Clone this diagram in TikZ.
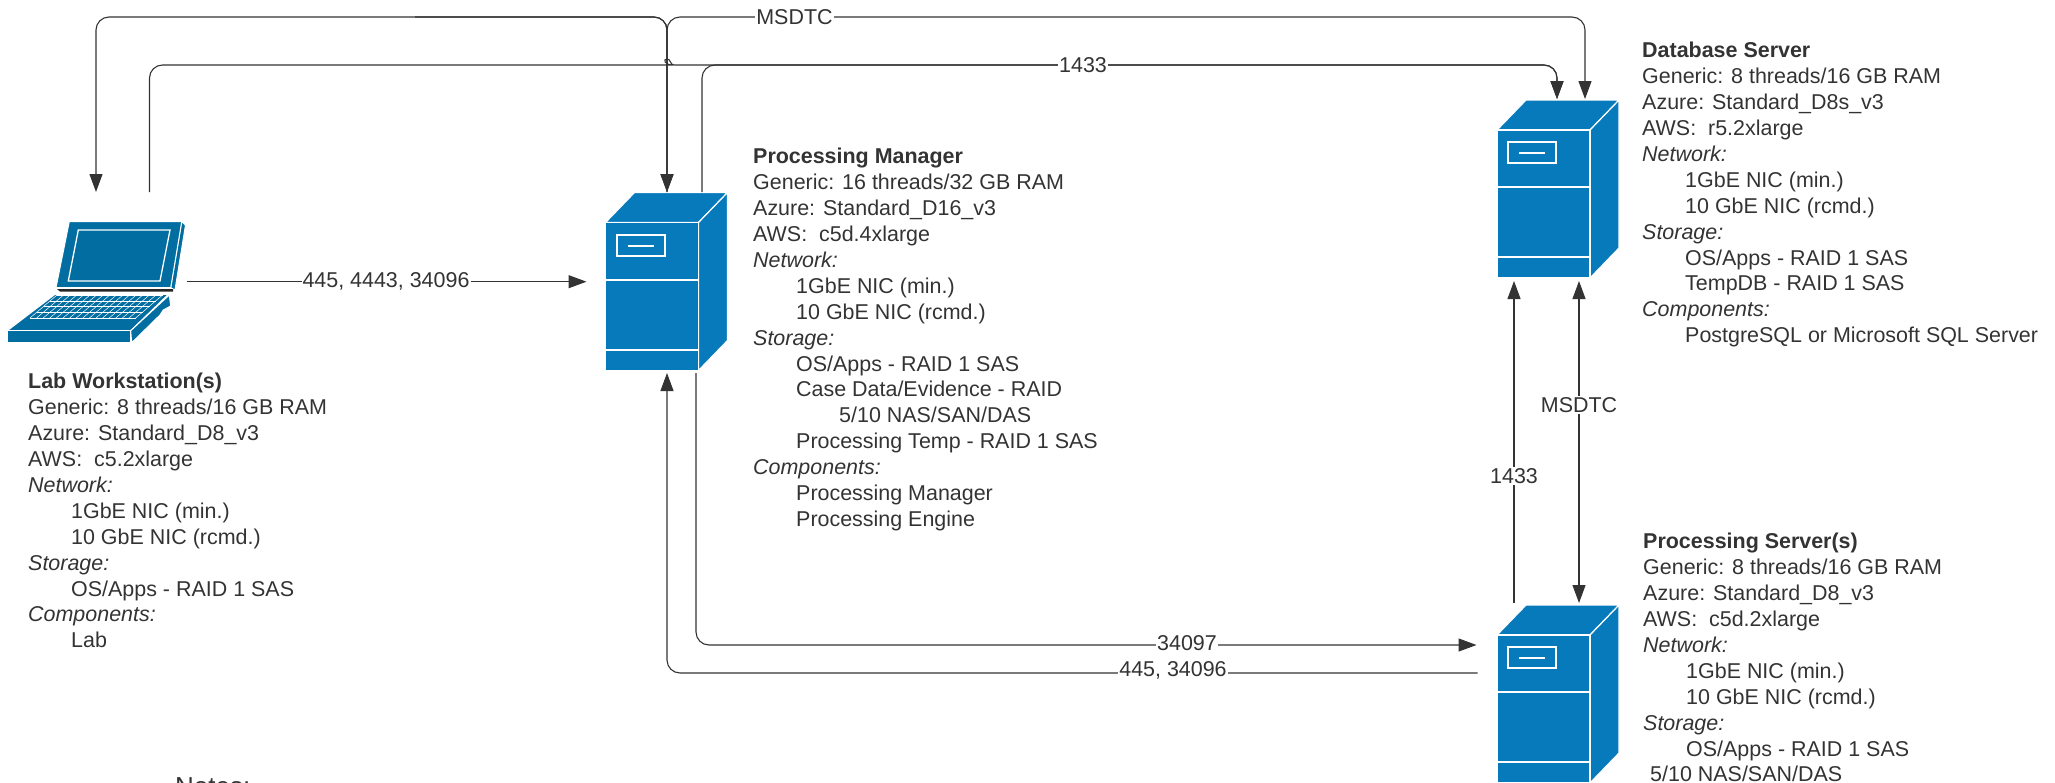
\documentclass[tikz,border=0pt]{standalone}
\definecolor{srvblue}{RGB}{7, 122, 188}
\definecolor{lapblue}{RGB}{2, 109, 160}
\definecolor{inkgray}{RGB}{51, 51, 51}
\usepackage{fontspec}
\setmainfont{Liberation Sans}
\usetikzlibrary{arrows.meta, positioning, calc}
\newcommand{\ind}{\hspace*{43pt}}

\begin{document}
\begin{tikzpicture}[
  x=1pt, y=-1pt,
  conn/.style={draw=inkgray, line width=1.1pt, rounded corners=13pt},
  tipend/.style={-{Triangle[length=18pt, width=13pt]}},
  tipboth/.style={{Triangle[length=18pt, width=13pt]}-{Triangle[length=18pt, width=13pt]}},
  portlbl/.style={fill=white, inner sep=1pt, text=inkgray, font=\fontsize{21.45}{25.9}\selectfont},
  specbox/.style={anchor=north west, align=left, inner sep=0pt, text=inkgray, font=\fontsize{21.45}{25.9}\selectfont},
  srvface/.style={fill=srvblue, draw=white, line width=1.2pt},
  srvline/.style={draw=white, line width=2pt},
  lapface/.style={fill=lapblue, draw=white, line width=1pt},
  serverbox/.pic={
    \path[srvface] (0,30) -- (29,0) -- (122,0) -- (93,30) -- cycle;
    \path[srvface] (93,30) -- (122,0) -- (122,148) -- (93,178) -- cycle;
    \path[srvface] (0,30) -- (93,30) -- (93,178) -- (0,178) -- cycle;
    \draw[srvline] (0,87) -- (93,87);
    \draw[srvline] (0,157) -- (93,157);
    \draw[srvline] (11,42) rectangle (59,63);
    \draw[srvline] (22,53) -- (48,53);
  }
]
  \useasboundingbox (0,0) rectangle (2055,782);

  % laptop
  \path[lapface] (181.7,221.7) -- (185.5,225) -- (175,290) -- (170.7,287.7) -- cycle;
  \path[lapface] (69.3,221.7) -- (181.7,221.7) -- (170.7,287.7) -- (56,287.7) -- cycle;
  \draw[white, line width=1.3pt] (78.3,230) -- (170,230) -- (160,281) -- (68.3,281) -- cycle;
  \fill[black!85] (57,289) -- (173,289) -- (173,291.5) -- (60,291.5) -- cycle;
  \path[lapface] (55,294.3) -- (168.3,294.3) -- (130.7,330.7) -- (7.3,330.7) -- cycle;
  \path[lapface] (130.7,330.7) -- (169.3,295) -- (170.7,306) -- (163.3,310) -- (160,315) -- (131.7,342.7) -- cycle;
  \path[lapface] (7.3,330.7) -- (130.7,330.7) -- (130.7,342.7) -- (7.3,342.7) -- cycle;
  \foreach \i in {0,...,16}
    \draw[white, line width=0.5pt] (57+\i*6.6,295) -- (30+\i*6.6,318);
  \foreach \r in {0,...,4}
    \draw[white, line width=0.5pt] (57-\r*6.75,295+\r*5.8) -- (163-\r*6.75,295+\r*5.8);

  \pic at (605.5,192.5) {serverbox};
  \pic at (1497,100) {serverbox};
  \pic at (1497,605) {serverbox};

  \coordinate (railTop) at (0,17);
  \coordinate (railMid) at (0,65);
  \coordinate (railJoin) at (415,17);
  \coordinate (labIn) at (96,192);
  \coordinate (labOut) at (149.5,192);
  \coordinate (labSide) at (186.5,281.7);
  \coordinate (mgrSide) at (586.5,281.7);
  \coordinate (mgrTopIn) at (667,192);
  \coordinate (mgrTopOut) at (702,192);
  \coordinate (mgrBotIn) at (667,373);
  \coordinate (mgrBotOut) at (696,373);
  \coordinate (dbTopA) at (1557,99);
  \coordinate (dbTopB) at (1585,99);
  \coordinate (dbBotA) at (1514,281);
  \coordinate (dbBotB) at (1579,281);
  \coordinate (srvTopA) at (1514,603);
  \coordinate (srvTopB) at (1579,603);
  \coordinate (srvSideA) at (1476.5,645);
  \coordinate (srvSideB) at (1477.5,673);

  \draw[conn, tipboth] (labIn) -- (labIn |- railTop) -- (mgrTopIn |- railTop) -- (mgrTopIn);
  \draw[conn, tipend] (railJoin) -- (mgrTopIn |- railTop) -- (mgrTopIn);
  \draw[conn, tipend] (mgrTopIn) -- (mgrTopIn |- railTop) -- (dbTopB |- railTop) -- (dbTopB);
  \draw[conn, tipend] (labOut) -- (labOut |- railMid) -- (660,65) [sharp corners] .. controls (664,65) and (663,59) .. (667,59) .. controls (671,59) and (670,65) .. (674,65) [rounded corners=13pt] -- (dbTopA |- railMid) -- (dbTopA);
  \draw[conn, tipend] (mgrTopOut) -- (mgrTopOut |- railMid) -- (dbTopA |- railMid) -- (dbTopA);
  \draw[conn, tipend] (labSide) -- (mgrSide);
  \draw[conn, tipend] (srvTopA) -- (dbBotA);
  \draw[conn, tipboth] (srvTopB) -- (dbBotB);
  \draw[conn, tipend] (mgrBotOut) -- (mgrBotOut |- srvSideA) -- (srvSideA);
  \draw[conn, tipend] (srvSideB) -- (mgrBotIn |- srvSideB) -- (mgrBotIn);

  \node[portlbl] (lblMsTop) at (794.5,17) {MSDTC};
  \node[portlbl] (lblSqlTop) at (1083,65) {1433};
  \node[portlbl] (lblLab) at (386,281.7) {445, 4443, 34096};
  \node[portlbl] (lblSqlSrv) at (1514,476) {1433};
  \node[portlbl] (lblMsSrv) at (1579,405) {MSDTC};
  \node[portlbl] (lblEngine) at (1187,643.5) {34097};
  \node[portlbl] (lblMgrBack) at (1173,670) {445, 34096};

  \node[specbox] (specLab) at (28,370.5) {\strut\textbf{Lab Workstation(s)}\\
    Generic: 8 threads/16 GB RAM\\ Azure: Standard\_D8\_v3\\ AWS:\ \ c5.2xlarge\\
    \textit{Network:}\\ \ind 1GbE NIC (min.)\\ \ind 10 GbE NIC (rcmd.)\\
    \textit{Storage:}\\ \ind OS/Apps - RAID 1 SAS\\ \textit{Components:}\\ \ind Lab};
  \node[specbox] (specMgr) at (753,145.5) {\strut\textbf{Processing Manager}\\
    Generic: 16 threads/32 GB RAM\\ Azure: Standard\_D16\_v3\\ AWS:\ \ c5d.4xlarge\\
    \textit{Network:}\\ \ind 1GbE NIC (min.)\\ \ind 10 GbE NIC (rcmd.)\\
    \textit{Storage:}\\ \ind OS/Apps - RAID 1 SAS\\ \ind Case Data/Evidence - RAID\\
    \hspace*{86pt}5/10 NAS/SAN/DAS\\ \ind Processing Temp - RAID 1 SAS\\
    \textit{Components:}\\ \ind Processing Manager\\ \ind Processing Engine};
  \node[specbox] (specDb) at (1642,39.5) {\strut\textbf{Database Server}\\
    Generic: 8 threads/16 GB RAM\\ Azure: Standard\_D8s\_v3\\ AWS:\ \ r5.2xlarge\\
    \textit{Network:}\\ \ind 1GbE NIC (min.)\\ \ind 10 GbE NIC (rcmd.)\\
    \textit{Storage:}\\ \ind OS/Apps - RAID 1 SAS\\ \ind TempDB - RAID 1 SAS\\
    \textit{Components:}\\ \ind PostgreSQL or Microsoft SQL Server};
  \node[specbox] (specSrv) at (1643,530.5) {\strut\textbf{Processing Server(s)}\\
    Generic: 8 threads/16 GB RAM\\ Azure: Standard\_D8\_v3\\ AWS:\ \ c5d.2xlarge\\
    \textit{Network:}\\ \ind 1GbE NIC (min.)\\ \ind 10 GbE NIC (rcmd.)\\
    \textit{Storage:}\\ \ind OS/Apps - RAID 1 SAS\\ \hspace*{7pt}5/10 NAS/SAN/DAS};
  \node[anchor=base west, inner sep=0pt, text=inkgray, font=\fontsize{26}{30}\selectfont] (notesHead) at (175,795) {Notes:};
\end{tikzpicture}
\end{document}
